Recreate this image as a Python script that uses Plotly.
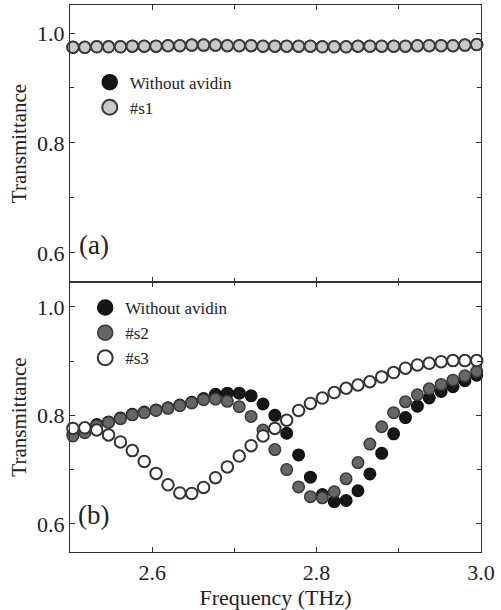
import plotly.graph_objects as go
from plotly.subplots import make_subplots

# ---------------- data ----------------
freq = [2.5036, 2.5180, 2.5325, 2.5469, 2.5614, 2.5758, 2.5903, 2.6047, 2.6192,
        2.6336, 2.6481, 2.6625, 2.6770, 2.6914, 2.7059, 2.7203, 2.7348, 2.7492,
        2.7636, 2.7781, 2.7925, 2.8070, 2.8214, 2.8359, 2.8503, 2.8648, 2.8792,
        2.8937, 2.9081, 2.9226, 2.9370, 2.9515, 2.9659, 2.9804, 2.9948]

# panel (a)
a_without = [0.974, 0.974, 0.975, 0.975, 0.975, 0.976, 0.976, 0.976, 0.977,
             0.977, 0.978, 0.978, 0.978, 0.977, 0.977, 0.977, 0.976, 0.976,
             0.976, 0.976, 0.976, 0.975, 0.975, 0.975, 0.976, 0.976, 0.976,
             0.976, 0.976, 0.977, 0.977, 0.977, 0.977, 0.978, 0.979]
a_s1 = [0.974, 0.974, 0.975, 0.975, 0.975, 0.976, 0.976, 0.976, 0.977,
        0.977, 0.978, 0.978, 0.978, 0.977, 0.977, 0.977, 0.976, 0.976,
        0.976, 0.976, 0.976, 0.975, 0.975, 0.975, 0.976, 0.976, 0.976,
        0.976, 0.976, 0.977, 0.977, 0.977, 0.977, 0.978, 0.979]

# panel (b)
b_without = [0.765, 0.770, 0.783, 0.788, 0.795, 0.802, 0.806, 0.810, 0.814,
             0.819, 0.824, 0.831, 0.839, 0.841, 0.841, 0.836, 0.821, 0.800,
             0.767, 0.727, 0.686, 0.654, 0.641, 0.643, 0.661, 0.692, 0.730,
             0.766, 0.796, 0.817, 0.832, 0.844, 0.853, 0.864, 0.874]
b_s2 = [0.762, 0.768, 0.781, 0.787, 0.794, 0.801, 0.805, 0.809, 0.813,
        0.818, 0.823, 0.829, 0.830, 0.826, 0.816, 0.798, 0.773, 0.737,
        0.700, 0.668, 0.650, 0.648, 0.659, 0.683, 0.713, 0.747, 0.779,
        0.805, 0.825, 0.838, 0.849, 0.857, 0.865, 0.873, 0.881]
b_s3 = [0.776, 0.777, 0.773, 0.764, 0.751, 0.735, 0.715, 0.693, 0.672,
        0.657, 0.656, 0.667, 0.685, 0.705, 0.725, 0.744, 0.762, 0.776,
        0.791, 0.809, 0.822, 0.832, 0.842, 0.850, 0.856, 0.862, 0.871,
        0.879, 0.887, 0.893, 0.896, 0.899, 0.901, 0.901, 0.901]

x_ticks = [2.6, 2.8, 3.0]
x_ticktext = ["2.6", "2.8", "3.0"]
y_ticks = [0.6, 0.8, 1.0]
y_ticktext = ["0.6", "0.8", "1.0"]

# ---------------- styles ----------------
FONT = "Liberation Serif"
INK = "#222222"
MS = 11.5
styles = {
    "Without avidin": dict(color="#161616", line=dict(color="#111111", width=1.5)),
    "#s1": dict(color="#c9c9c9", line=dict(color="#3a3a3a", width=2)),
    "#s2": dict(color="#666666", line=dict(color="#383838", width=1.5)),
    "#s3": dict(color="#ffffff", line=dict(color="#333333", width=2)),
}

fig = make_subplots(rows=2, cols=1, shared_xaxes=False, vertical_spacing=0,
                    row_heights=[0.5064, 0.4936])

def add(x, y, name, row, legend):
    st = styles[name]
    fig.add_trace(go.Scatter(x=x, y=y, mode="markers", name=name,
                             marker=dict(size=MS, symbol="circle", **st),
                             cliponaxis=False, showlegend=False),
                  row=row, col=1)
    # legend entry with a slightly larger symbol
    fig.add_trace(go.Scatter(x=[None], y=[None], mode="markers", name=name,
                             marker=dict(size=15, symbol="circle", **st),
                             legend=legend, showlegend=True),
                  row=row, col=1)

add(freq, a_without, "Without avidin", 1, "legend")
add(freq, a_s1, "#s1", 1, "legend")
add(freq, b_without, "Without avidin", 2, "legend2")
add(freq, b_s2, "#s2", 2, "legend2")
add(freq, b_s3, "#s3", 2, "legend2")

axis_common = dict(showline=True, linecolor="#333333", linewidth=1.3, mirror="ticks",
                   ticks="inside", ticklen=5, tickwidth=1.3, tickcolor="#333333",
                   showgrid=False, zeroline=False,
                   tickfont=dict(family=FONT, size=22, color=INK))

for r in (1, 2):
    fig.update_xaxes(range=[2.5, 3.0], tickvals=x_ticks, ticktext=x_ticktext,
                     minor=dict(tickvals=[2.7, 2.9], ticks="inside", ticklen=4,
                                tickcolor="#333333"),
                     showticklabels=(r == 2), row=r, col=1, **axis_common)
    fig.update_yaxes(tickvals=y_ticks, ticktext=y_ticktext,
                     minor=dict(tickvals=[0.7, 0.9], ticks="inside", ticklen=4,
                                tickcolor="#333333"),
                     title=dict(text="Transmittance", standoff=4,
                                font=dict(family=FONT, size=21, color=INK)),
                     row=r, col=1, **axis_common)

fig.update_yaxes(range=[0.547, 1.051], row=1, col=1)
fig.update_yaxes(range=[0.548, 1.046], row=2, col=1)
fig.update_xaxes(title=dict(text="Frequency (THz)", standoff=2,
                            font=dict(family=FONT, size=22, color=INK)),
                 row=2, col=1)

fig.add_annotation(text="(a)", xref="paper", yref="paper", x=0.058, y=0.562,
                   xanchor="center", yanchor="middle",
                   showarrow=False, font=dict(family=FONT, size=27, color=INK))
fig.add_annotation(text="(b)", xref="paper", yref="paper", x=0.058, y=0.067,
                   xanchor="center", yanchor="middle",
                   showarrow=False, font=dict(family=FONT, size=27, color=INK))

legend_style = dict(font=dict(family=FONT, size=17, color=INK),
                    bgcolor="rgba(0,0,0,0)", borderwidth=0,
                    xanchor="left", yanchor="top", itemsizing="trace",
                    tracegroupgap=0)
fig.update_layout(
    width=501, height=610,
    margin=dict(l=70, r=20, t=5, b=58),
    paper_bgcolor="white", plot_bgcolor="white",
    legend=dict(x=0.048, y=0.891, **legend_style),
    legend2=dict(x=0.037, y=0.479, **legend_style),
)

fig.write_html("out.html")
